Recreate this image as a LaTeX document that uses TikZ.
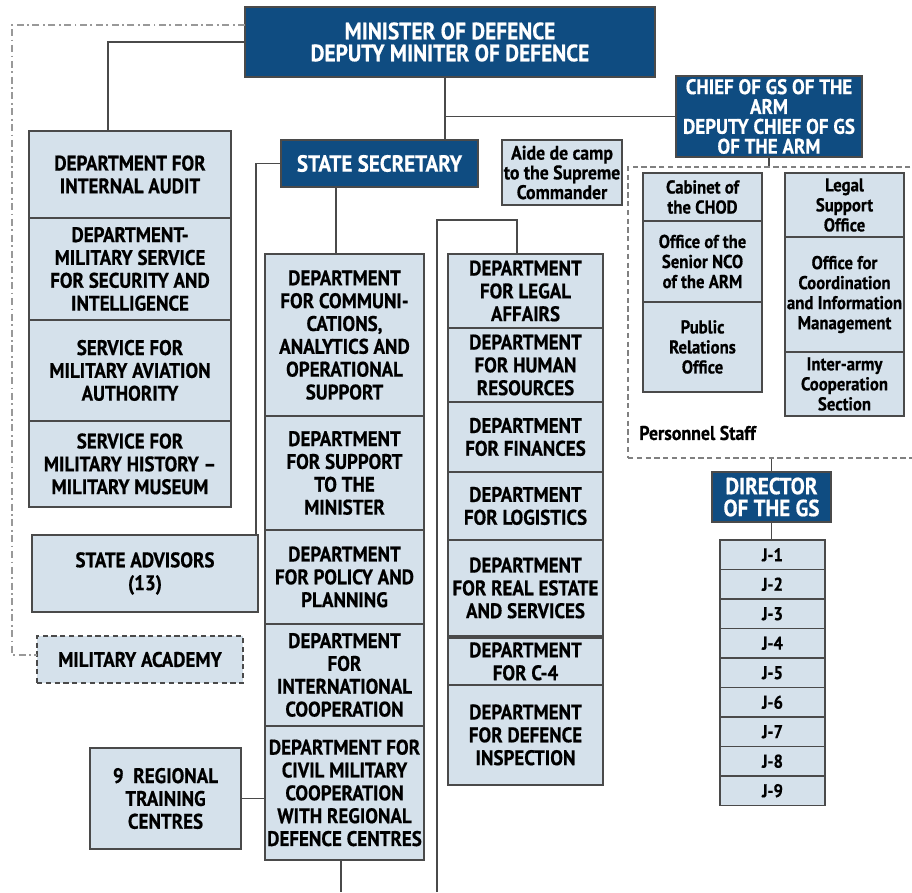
\documentclass[tikz,border=0pt]{standalone}
\usepackage{fontspec}
\setmainfont{PT Sans}[FakeStretch=0.9, BoldFeatures={FakeBold=0.6}]
\usetikzlibrary{positioning}
\usepackage{xcolor}
\definecolor{navy}{HTML}{0F4C81}
\definecolor{paleblue}{HTML}{D5E1EB}
\definecolor{linegray}{HTML}{4A4A4A}

\tikzset{
  head/.style={rectangle, draw=linegray, line width=1pt, fill=navy, text=white, align=center, inner sep=1pt, outer sep=0pt, font=\bfseries\fontsize{12}{11.3}\selectfont},
  dept/.style={rectangle, draw=linegray, line width=1pt, fill=paleblue, align=center, inner sep=1pt, outer sep=0pt, font=\bfseries\fontsize{12}{13}\selectfont},
  office/.style={dept, font=\bfseries\fontsize{11}{11.4}\selectfont},
  leftcol/.style={dept, minimum width=4.04cm},
  midcol/.style={dept, minimum width=3.18cm},
  rightcol/.style={dept, minimum width=3.1cm},
  staffcol/.style={office, inner sep=0pt, minimum width=2.38cm, font=\bfseries\fontsize{10.6}{11.4}\selectfont},
  jbox/.style={dept, minimum width=2.1cm, minimum height=0.59cm, font=\bfseries\fontsize{10.5}{11}\selectfont},
  link/.style={draw=linegray, line width=1pt},
}

\begin{document}
\begin{tikzpicture}[x=0.02cm, y=-0.02cm]
    \useasboundingbox (0,0) rectangle (912,892);

    % Top level
    \node (minister) [head, minimum width=8.2cm, minimum height=1.4cm, font=\bfseries\fontsize{13.5}{12.5}\selectfont] at (450,42) {MINISTER OF DEFENCE\\DEPUTY MINITER OF DEFENCE};
    \node (chief) [head, minimum width=3.72cm, minimum height=1.62cm] at (769,116.5) {CHIEF OF GS OF THE\\ARM\\DEPUTY CHIEF OF GS\\OF THE ARM};
    \node (secretary) [head, minimum width=3.94cm, minimum height=0.94cm, font=\bfseries\fontsize{13.3}{12}\selectfont] at (379.5,163.5) {STATE SECRETARY};
    \node (aide) [office, minimum width=2.36cm, minimum height=1.3cm, font=\bfseries\fontsize{11.2}{11.2}\selectfont] at (562,172.5) {Aide de camp\\to the Supreme\\Commander};

    % Left column
    \node (audit) [leftcol, minimum height=1.74cm] at (130,174.5) {DEPARTMENT FOR\\INTERNAL AUDIT};
    \node (security) [leftcol, minimum height=2.04cm, below=0pt of audit] {DEPARTMENT-\\MILITARY SERVICE\\FOR SECURITY AND\\INTELLIGENCE};
    \node (aviation) [leftcol, minimum height=2.02cm, below=0pt of security] {SERVICE FOR\\MILITARY AVIATION\\AUTHORITY};
    \node (history) [leftcol, minimum height=1.72cm, below=0pt of aviation] {SERVICE FOR\\MILITARY HISTORY --\\MILITARY MUSEUM};
    \node (advisors) [dept, minimum width=4.52cm, minimum height=1.54cm] at (145,573.5) {STATE ADVISORS\\(13)};
    \node (academy) [dept, dashed, dash pattern=on 3pt off 2pt, minimum width=4.12cm, minimum height=0.94cm] at (140,659.5) {MILITARY ACADEMY};
    \node (regional) [dept, minimum width=3.02cm, minimum height=2.02cm] at (165.5,798.5) {9\ \ REGIONAL\\TRAINING\\CENTRES};

    % Middle column
    \node (comms) [midcol, minimum height=3.24cm] at (344.5,335) {DEPARTMENT\\FOR COMMUNI-\\CATIONS,\\ANALYTICS AND\\OPERATIONAL\\SUPPORT};
    \node (support) [midcol, minimum height=2.28cm, below=0pt of comms] {DEPARTMENT\\FOR SUPPORT\\TO THE\\MINISTER};
    \node (policy) [midcol, minimum height=1.88cm, below=0pt of support] {DEPARTMENT\\FOR POLICY AND\\PLANNING};
    \node (intl) [midcol, minimum height=2.04cm, below=0pt of policy] {DEPARTMENT\\FOR\\INTERNATIONAL\\COOPERATION};
    \node (civil) [midcol, minimum height=2.68cm, below=0pt of intl] {DEPARTMENT FOR\\CIVIL MILITARY\\COOPERATION\\WITH REGIONAL\\DEFENCE CENTRES};

    % Right column
    \node (legal) [rightcol, minimum height=1.48cm] at (525.5,291) {DEPARTMENT\\FOR LEGAL\\AFFAIRS};
    \node (hr) [rightcol, minimum height=1.48cm, below=0pt of legal] {DEPARTMENT\\FOR HUMAN\\RESOURCES};
    \node (finance) [rightcol, minimum height=1.4cm, below=0pt of hr] {DEPARTMENT\\FOR FINANCES};
    \node (logistics) [rightcol, minimum height=1.36cm, below=0pt of finance] {DEPARTMENT\\FOR LOGISTICS};
    \node (estate) [rightcol, minimum height=1.92cm, below=0pt of logistics] {DEPARTMENT\\FOR REAL ESTATE\\AND SERVICES};
    \node (cfour) [rightcol, minimum height=0.94cm, below=0.04cm of estate] {DEPARTMENT\\FOR C-4};
    \node (inspection) [rightcol, minimum height=2cm, below=0pt of cfour] {DEPARTMENT\\FOR DEFENCE\\INSPECTION};

    % Personnel staff
    \node (staff) [rectangle, draw=linegray!70, dashed, dash pattern=on 3pt off 2pt, line width=1pt, minimum width=5.8cm, minimum height=5.82cm] at (773,312.5) {};
    \node (cabinet) [staffcol, minimum height=0.96cm] at (702.5,197) {Cabinet of\\the CHOD};
    \node (nco) [staffcol, minimum height=1.62cm, below=0pt of cabinet] {Office of the\\Senior NCO\\of the ARM};
    \node (pr) [staffcol, minimum height=1.8cm, below=0pt of nco] {Public\\Relations\\Office};
    \node (legalsup) [staffcol, minimum height=1.28cm] at (844.5,205) {Legal\\Support\\Office};
    \node (coord) [staffcol, minimum height=2.3cm, below=0pt of legalsup] {Office for\\Coordination\\and Information\\Management};
    \node (interarmy) [staffcol, minimum height=1.28cm, below=0pt of coord] {Inter-army\\Cooperation\\Section};
    \node (stafflabel) [anchor=west, inner sep=0pt, font=\bfseries\fontsize{11.3}{11}\selectfont] at (639,433) {Personnel Staff};

    % General staff
    \node (director) [head, minimum width=2.38cm, minimum height=1cm, font=\bfseries\fontsize{13.3}{12.5}\selectfont] at (771.5,497) {DIRECTOR\\OF THE GS};
    \node (j1) [jbox] at (772.5,554.75) {J-1};
    \node (j2) [jbox, below=0pt of j1] {J-2};
    \node (j3) [jbox, below=0pt of j2] {J-3};
    \node (j4) [jbox, below=0pt of j3] {J-4};
    \node (j5) [jbox, below=0pt of j4] {J-5};
    \node (j6) [jbox, below=0pt of j5] {J-6};
    \node (j7) [jbox, below=0pt of j6] {J-7};
    \node (j8) [jbox, below=0pt of j7] {J-8};
    \node (j9) [jbox, below=0pt of j8] {J-9};

    % Connectors
    \coordinate (acadturn) at (12,655);
    \coordinate (cutL) at (341,892);
    \coordinate (cutR) at (437,892);
    \draw[link] (minister.west) -| ([xshift=-0.44cm]audit.north);
    \draw[draw=gray!80, line width=1pt, dash pattern=on 4pt off 2pt on 1pt off 2pt] ([yshift=0.34cm]minister.west) -| (acadturn) -- (academy.west |- acadturn);
    \draw[link] ([xshift=-0.1cm]minister.south) coordinate (mdrop) -- (mdrop |- secretary.north);
    \draw[link] (mdrop |- chief.west) -- (chief.west);
    \draw[link] (secretary.west) -| ([xshift=-1pt]advisors.north east);
    \draw[link] ([xshift=-0.87cm]secretary.south) -- ([xshift=-0.87cm]secretary.south |- comms.north);
    \draw[link] (cutR) |- ([xshift=-0.17cm, yshift=0.68cm]legal.north) -- ([xshift=-0.17cm]legal.north);
    \draw[link] (cutL |- civil.south) -- (cutL);
    \draw[link] (regional.east) -- (regional.east -| civil.west);
    \draw[link] (chief.south) -- (chief.south |- staff.north);
    \draw[link] (director.north |- staff.south) -- (director.north);
    \draw[link] (director.south) -- (director.south |- j1.north);
\end{tikzpicture}
\end{document}
